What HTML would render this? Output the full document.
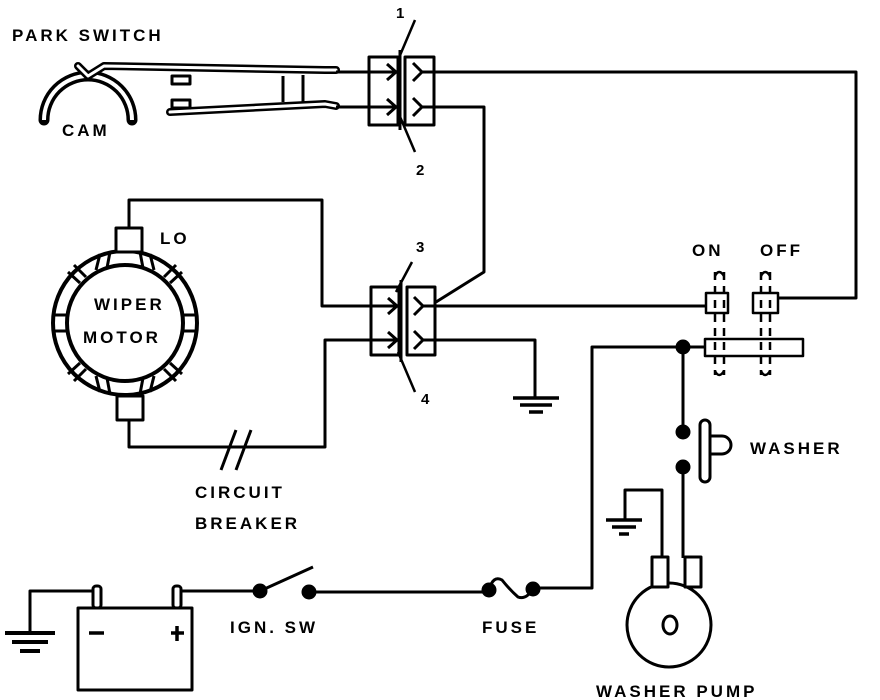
<!DOCTYPE html>
<html><head><meta charset="utf-8"><style>
html,body{margin:0;padding:0;background:#fff;}
svg{display:block;}
text{font-family:"Liberation Sans",Arial,sans-serif;font-weight:bold;font-size:17px;letter-spacing:3px;fill:#000;}
</style></head><body>
<svg width="880" height="700" viewBox="0 0 880 700" xmlns="http://www.w3.org/2000/svg">
<g fill="none" stroke="#000" stroke-width="3" stroke-linejoin="round">
<!-- park switch -->
<path d="M44,120 A43,43 0 0 1 132,120" stroke-width="11" stroke-linecap="round"/>
<path d="M44,120 A43,43 0 0 1 132,120" stroke-width="4" stroke="#fff"/>
<path d="M78,66 L88,76 L104,66 L325,70 L336,70" stroke-width="8" stroke-linecap="round"/>
<path d="M78,66 L88,76 L104,66 L325,70 L336,70" stroke-width="3" stroke="#fff" stroke-linecap="round"/>
<path d="M336,72 L369,72"/>
<path d="M170,112 L325,104 L336,106" stroke-width="8" stroke-linecap="round"/>
<path d="M170,112 L325,104 L336,106" stroke-width="3" stroke="#fff" stroke-linecap="round"/>
<path d="M336,107 L369,107"/>
<rect x="172" y="76" width="18" height="8" fill="#fff"/>
<rect x="172" y="100" width="18" height="8" fill="#fff"/>
<path d="M283,76 L283,102 M303,75 L303,102"/>
<!-- connector 1-2 -->
<rect x="369" y="57" width="29" height="68"/>
<rect x="405" y="57" width="29" height="68"/>
<path d="M400,50 L400,130"/>
<path d="M369,72 L396,72 M387,64 L396,72 L387,80 M369,107 L396,107 M387,99 L396,107 L387,115"/>
<path d="M413,63 L422,72 L413,81 M422,72 L434,72 M413,98 L422,107 L413,116 M422,107 L434,107"/>
<path d="M415,20 L398,60 M398,112 L415,152" stroke-width="2.5"/>
<path d="M434,72 L856,72 L856,298 L778,298"/>
<path d="M434,107 L484,107 L484,272 L436,302"/>
<!-- motor -->
<circle cx="125" cy="323" r="72" stroke-width="4"/>
<circle cx="125" cy="323" r="58" stroke-width="4"/>
<g stroke-width="3">
<path d="M52,315 L67,315 M52,331 L67,331 M183,315 L198,315 M183,331 L198,331"/>
<path d="M100,254 L96,270 M110,252 L107,268 M140,252 L143,268 M150,254 L154,270"/>
<path d="M100,392 L96,376 M110,394 L107,378 M140,394 L143,378 M150,392 L154,376"/>
<path d="M68,272 L80,283 M74,265 L86,277 M182,272 L170,283 M176,265 L164,277"/>
<path d="M68,374 L80,363 M74,381 L86,369 M182,374 L170,363 M176,381 L164,369"/>
</g>
<rect x="116" y="228" width="26" height="24" fill="#fff"/>
<rect x="117" y="396" width="26" height="24" fill="#fff"/>
<path d="M129,228 L129,200 L322,200 L322,306 L371,306"/>
<path d="M129,420 L129,447 L325,447 L325,340 L371,340"/>
<path d="M221,470 L236,430 M236,470 L251,430"/>
<!-- connector 3-4 -->
<rect x="371" y="287" width="28" height="68"/>
<rect x="407" y="287" width="28" height="68"/>
<path d="M401,280 L401,362"/>
<path d="M371,306 L397,306 M388,298 L397,306 L388,314 M371,340 L397,340 M388,332 L397,340 L388,348"/>
<path d="M414,297 L423,306 L414,315 M423,306 L435,306 M414,331 L423,340 L414,349 M423,340 L435,340"/>
<path d="M412,262 L396,292 M398,352 L415,392" stroke-width="2.5"/>
<path d="M435,306 L705,306"/>
<path d="M435,340 L535,340 L535,398"/>
<path d="M513,398 L559,398 M520,405 L552,405 M529,412 L543,412" stroke-width="3.5"/>
<!-- on/off switch -->
<rect x="706" y="293" width="22" height="20" stroke-width="2.5"/>
<rect x="753" y="293" width="25" height="20" stroke-width="2.5"/>
<rect x="705" y="339" width="98" height="17" stroke-width="2.5"/>
<g stroke-dasharray="8,6" stroke-width="2.5">
<path d="M715,272 L715,375 M724,272 L724,375 M761,272 L761,375 M770,272 L770,375"/>
</g>
<path d="M715,276 Q719,268 724,276 M715,371 Q719,379 724,371 M761,276 Q765,268 770,276 M761,371 Q765,379 770,371" stroke-width="2.5"/>
<path d="M705,347 L592,347 L592,588 L533,588"/>
<path d="M683,347 L683,432 M683,467 L683,558"/>
<circle cx="683" cy="347" r="6" fill="#000"/>
<circle cx="683" cy="432" r="6" fill="#000"/>
<circle cx="683" cy="467" r="6" fill="#000"/>
<rect x="700" y="420" width="10" height="62" rx="5"/>
<path d="M710,436 L722,436 A9,9 0 0 1 722,454 L710,454"/>
<!-- washer pump -->
<ellipse cx="669" cy="625" rx="42" ry="42"/>
<rect x="652" y="557" width="16" height="30" fill="#fff"/>
<rect x="685" y="557" width="16" height="30" fill="#fff"/>
<path d="M662,557 L662,490 L625,490 L625,520"/>
<path d="M606,520 L642,520 M612,527 L636,527 M619,534 L629,534" stroke-width="3.5"/>
<ellipse cx="670" cy="625" rx="7" ry="9"/>
<!-- battery -->
<rect x="78" y="608" width="114" height="82"/>
<rect x="93" y="586" width="8" height="22" rx="3"/>
<rect x="173" y="586" width="8" height="22" rx="3"/>
<path d="M93,591 L30,591 L30,633"/>
<path d="M5,633 L55,633 M12,642 L48,642 M20,651 L40,651" stroke-width="4"/>
<path d="M89,633 L104,633 M171,633 L184,633 M177,626 L177,641" stroke-width="3.5"/>
<path d="M181,591 L258,591"/>
<circle cx="260" cy="591" r="6" fill="#000"/>
<path d="M260,591 L313,567"/>
<circle cx="309" cy="592" r="6" fill="#000"/>
<path d="M309,592 L488,592"/>
<circle cx="489" cy="590" r="6" fill="#000"/>
<circle cx="533" cy="589" r="6" fill="#000"/>
<path d="M489,590 Q493,575 502,580 Q510,590 518,597 Q526,600 533,589"/>
</g>
<text x="12" y="41">PARK SWITCH</text>
<text x="62" y="136">CAM</text>
<text x="396" y="18" style="font-size:15px">1</text>
<text x="416" y="175" style="font-size:15px">2</text>
<text x="160" y="244">LO</text>
<text x="94" y="310">WIPER</text>
<text x="83" y="343">MOTOR</text>
<text x="416" y="252" style="font-size:15px">3</text>
<text x="421" y="404" style="font-size:15px">4</text>
<text x="692" y="256">ON</text>
<text x="760" y="256">OFF</text>
<text x="750" y="454">WASHER</text>
<text x="195" y="498">CIRCUIT</text>
<text x="195" y="529">BREAKER</text>
<text x="230" y="633">IGN. SW</text>
<text x="482" y="633">FUSE</text>
<text x="596" y="697">WASHER PUMP</text>
</svg>
</body></html>
